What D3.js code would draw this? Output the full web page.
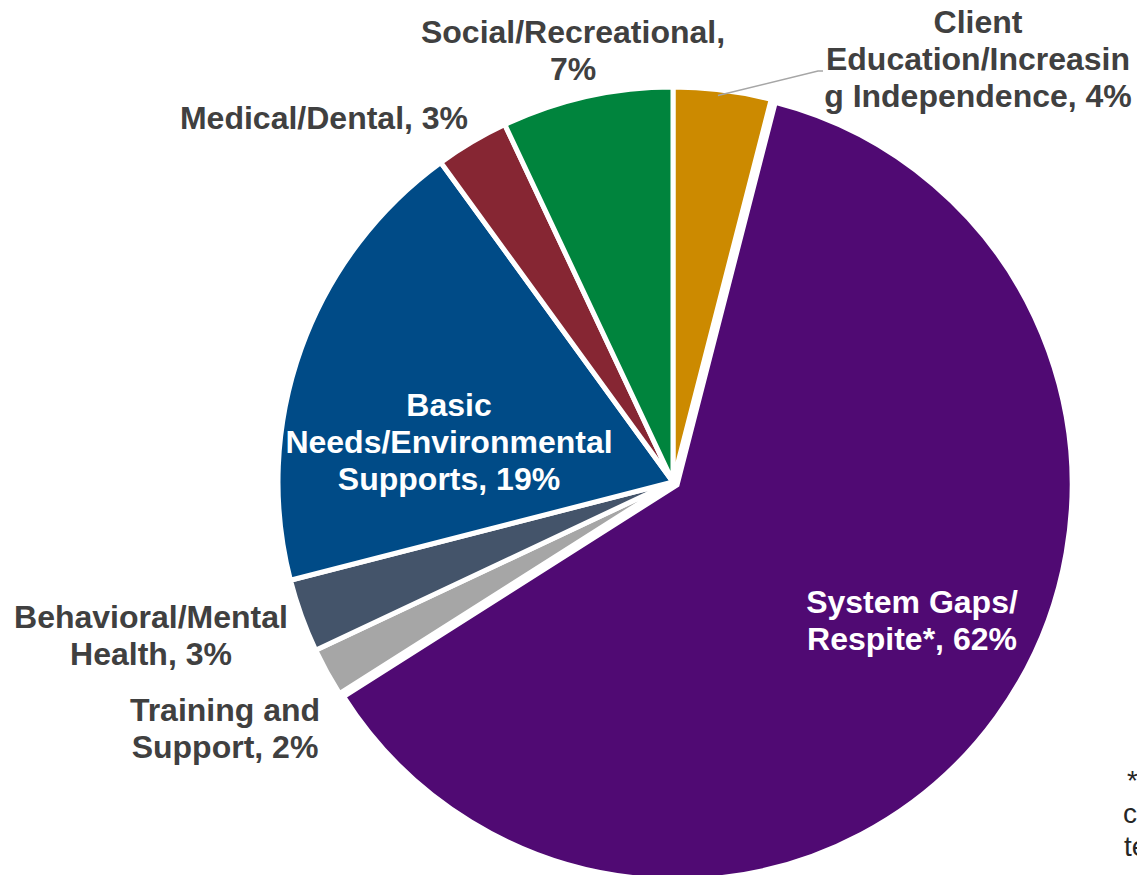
<!DOCTYPE html>
<html>
<head>
<meta charset="utf-8">
<script src="https://cdn.jsdelivr.net/npm/d3@7"></script>
<style>
  html, body { margin: 0; padding: 0; background: #ffffff; overflow: hidden; }
  svg { display: block; }
  text { font-family: "Liberation Sans", Arial, sans-serif; }
</style>
</head>
<body>
<svg id="chart" width="1137" height="875"></svg>
<script>
// Share of requests by category (percent), clockwise from 12 o'clock
const categories = [
  "Client Education/Increasing Independence",
  "System Gaps/Respite*",
  "Training and Support",
  "Behavioral/Mental Health",
  "Basic Needs/Environmental Supports",
  "Medical/Dental",
  "Social/Recreational"
];
const values = [4, 62, 2, 3, 19, 3, 7];
const colors = ["#CC8A00", "#500A73", "#A6A6A6", "#44546A", "#004B87", "#862633", "#00843D"];

// Label text lines per category (as wrapped in the chart)
const labelLines = [
  ["Client", "Education/Increasin", "g Independence, 4%"],
  ["System Gaps/", "Respite*, 62%"],
  ["Training and", "Support, 2%"],
  ["Behavioral/Mental", "Health, 3%"],
  ["Basic", "Needs/Environmental", "Supports, 19%"],
  ["Medical/Dental, 3%"],
  ["Social/Recreational,", "7%"]
];
const footnoteLines = ["* Respite includes", "caregiver support and", "temporary relief"];

// ---- layout ----
const W = 1137, H = 875;
const cx = 673, cy = 482, R = 395;
const explodeIdx = 1, explodeBy = 5;
const lineH = 37;
// label anchor (center x, first baseline y) and fill colour
const labelLayout = [
  { x: 978, y: 33, fill: "#404040" },
  { x: 912, y: 613, fill: "#ffffff" },
  { x: 225, y: 721, fill: "#404040" },
  { x: 151, y: 628, fill: "#404040" },
  { x: 449, y: 416, fill: "#ffffff" },
  { x: 324, y: 129, fill: "#404040" },
  { x: 573, y: 43, fill: "#404040" }
];
const footnoteX = [1127, 1123, 1124];

const svg = d3.select("#chart");

const pie = d3.pie().sort(null).value(d => d)
  .startAngle(0).endAngle(2 * Math.PI);
const arcs = pie(values);
const arc = d3.arc().innerRadius(0).outerRadius(R);

const g = svg.append("g").attr("transform", `translate(${cx},${cy})`);

g.selectAll("path.slice")
  .data(arcs)
  .join("path")
  .attr("class", "slice")
  .attr("d", arc)
  .attr("fill", (d, i) => colors[i])
  .attr("stroke", "#ffffff")
  .attr("stroke-width", 5)
  .attr("stroke-linejoin", "miter")
  .attr("transform", (d, i) => {
    if (i !== explodeIdx) return null;
    const a = (d.startAngle + d.endAngle) / 2;
    return `translate(${Math.sin(a) * explodeBy},${-Math.cos(a) * explodeBy})`;
  });

// leader line for the small top slice
const lead = arcs[0];
const la = (lead.startAngle + lead.endAngle) / 2 - 0.01;
const p0 = [cx + Math.sin(la) * (R - 6), cy - Math.cos(la) * (R - 6)];
svg.append("polyline")
  .attr("points", [p0, [818, 71], [823, 71]].map(p => p.join(",")).join(" "))
  .attr("fill", "none")
  .attr("stroke", "#A6A6A6")
  .attr("stroke-width", 1.5);

// category labels
labelLines.forEach((lines, i) => {
  const L = labelLayout[i];
  const t = svg.append("text")
    .attr("text-anchor", "middle")
    .attr("font-size", 32)
    .attr("font-weight", "bold")
    .attr("fill", L.fill);
  lines.forEach((s, k) => {
    t.append("tspan").attr("x", L.x).attr("y", L.y + k * lineH).text(s);
  });
});

// footnote (runs past the right edge)
const fn = svg.append("text")
  .attr("font-size", 28)
  .attr("fill", "#262626");
footnoteLines.forEach((s, k) => {
  fn.append("tspan").attr("x", footnoteX[k]).attr("y", 790 + k * 33).text(s);
});
</script>
</body>
</html>
